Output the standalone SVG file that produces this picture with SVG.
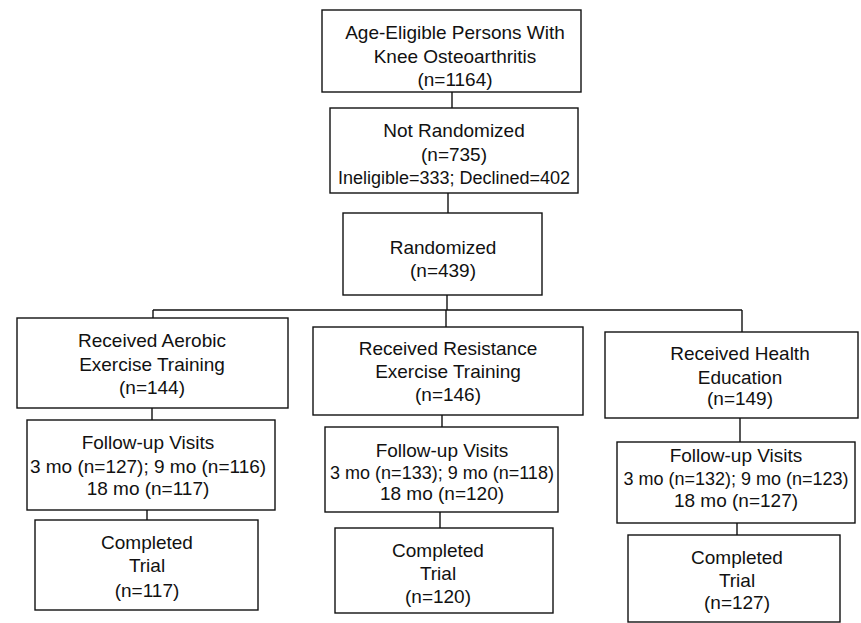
<svg xmlns="http://www.w3.org/2000/svg" width="861" height="623" viewBox="0 0 861 623">
<style>
.box{fill:#fff;stroke:#111;stroke-width:1.4}
.ln{fill:none;stroke:#111;stroke-width:1.4}
text{font-family:"Liberation Sans",Arial,sans-serif;font-size:19px;fill:#111;text-anchor:middle}
.sm{font-size:18px}
</style>
<rect width="861" height="623" fill="#fff"/>
<g id="connectors">
<line class="ln" x1="452" y1="92" x2="452" y2="108"/>
<line class="ln" x1="448" y1="193" x2="448" y2="213"/>
<line class="ln" x1="447" y1="295" x2="447" y2="310"/>
<line class="ln" x1="153" y1="310" x2="742" y2="310"/>
<line class="ln" x1="153" y1="310" x2="153" y2="318"/>
<line class="ln" x1="446" y1="310" x2="446" y2="327"/>
<line class="ln" x1="742" y1="310" x2="742" y2="332"/>
<line class="ln" x1="152" y1="408" x2="152" y2="420"/>
<line class="ln" x1="147" y1="510" x2="147" y2="520"/>
<line class="ln" x1="442" y1="415" x2="442" y2="427"/>
<line class="ln" x1="440" y1="512" x2="440" y2="528"/>
<line class="ln" x1="740" y1="418" x2="740" y2="442"/>
<line class="ln" x1="737" y1="523" x2="737" y2="535"/>
</g>
<g id="eligible">
<rect class="box" x="322" y="10" width="259" height="82"/>
<text x="455" y="39">Age-Eligible Persons With</text>
<text x="455" y="63">Knee Osteoarthritis</text>
<text x="455" y="86">(n=1164)</text>
</g>
<g id="not-randomized">
<rect class="box" x="330" y="108" width="248" height="85"/>
<text x="454" y="137">Not Randomized</text>
<text x="454" y="161">(n=735)</text>
<text class="sm" x="454" y="184">Ineligible=333; Declined=402</text>
</g>
<g id="randomized">
<rect class="box" x="343" y="213" width="199" height="82"/>
<text x="443" y="254">Randomized</text>
<text x="443" y="277">(n=439)</text>
</g>
<g id="aerobic">
<rect class="box" x="17" y="318" width="271" height="90"/>
<text x="152" y="347">Received Aerobic</text>
<text x="152" y="371">Exercise Training</text>
<text x="152" y="394">(n=144)</text>
</g>
<g id="aerobic-followup">
<rect class="box" x="27" y="420" width="248" height="90"/>
<text x="148" y="449">Follow-up Visits</text>
<text x="148" y="473">3 mo (n=127); 9 mo (n=116)</text>
<text x="148" y="495">18 mo (n=117)</text>
</g>
<g id="aerobic-completed">
<rect class="box" x="35" y="520" width="223" height="90"/>
<text x="147" y="549">Completed</text>
<text x="147" y="572">Trial</text>
<text x="147" y="597">(n=117)</text>
</g>
<g id="resistance">
<rect class="box" x="313" y="327" width="270" height="88"/>
<text x="448" y="355">Received Resistance</text>
<text x="448" y="378">Exercise Training</text>
<text x="448" y="401">(n=146)</text>
</g>
<g id="resistance-followup">
<rect class="box" x="325" y="427" width="233" height="85"/>
<text x="442" y="457">Follow-up Visits</text>
<text class="sm" x="442" y="479">3 mo (n=133); 9 mo (n=118)</text>
<text x="442" y="500">18 mo (n=120)</text>
</g>
<g id="resistance-completed">
<rect class="box" x="335" y="528" width="218" height="85"/>
<text x="438" y="557">Completed</text>
<text x="438" y="580">Trial</text>
<text x="438" y="603">(n=120)</text>
</g>
<g id="health">
<rect class="box" x="605" y="332" width="253" height="86"/>
<text x="740" y="360">Received Health</text>
<text x="740" y="384">Education</text>
<text x="740" y="405">(n=149)</text>
</g>
<g id="health-followup">
<rect class="box" x="617" y="442" width="238" height="81"/>
<text x="736" y="462">Follow-up Visits</text>
<text class="sm" x="736" y="485">3 mo (n=132); 9 mo (n=123)</text>
<text x="736" y="507">18 mo (n=127)</text>
</g>
<g id="health-completed">
<rect class="box" x="628" y="535" width="212" height="87"/>
<text x="737" y="564">Completed</text>
<text x="737" y="587">Trial</text>
<text x="737" y="609">(n=127)</text>
</g>
</svg>
